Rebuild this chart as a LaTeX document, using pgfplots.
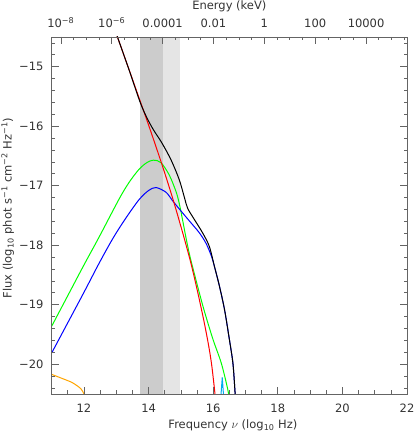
\documentclass[border=0pt]{standalone}
\usepackage{fontspec}
\setmainfont{DejaVu Sans}
\usepackage{pgfplots}
\pgfplotsset{compat=1.18}
\definecolor{bandA}{RGB}{204,204,204}
\definecolor{bandB}{RGB}{229,229,229}
\definecolor{myorange}{RGB}{255,165,0}
\definecolor{framec}{RGB}{100,100,100}
\newcommand{\fnt}{\fontsize{11.5bp}{14bp}\selectfont}
\begin{document}
\begin{tikzpicture}[font=\fnt]
\pgfplotsset{
  commonstyle/.style={
    scale only axis, width=355.3bp, height=357bp,
    tick align=inside,
    major tick length=7bp, minor tick length=3.5bp,
    every tick/.style={draw=framec, line width=0.7bp},
    axis line style={draw=framec, line width=0.8bp},
    ticklabel style={font=\fnt, text=black!80, inner sep=0pt},
    label style={font=\fnt, text=black!80, inner sep=0pt},
  }
}
\begin{axis}[commonstyle, name=main,
  xmin=11, xmax=22, ymin=-20.5, ymax=-14.5,
  xtick={12,14,16,18,20,22},
  xticklabels={12,14,16,18,20,22},
  minor xtick={11,11.5,...,22},
  ytick={-20,-19,-18,-17,-16,-15},
  yticklabels={−20,−19,−18,−17,−16,−15},
  minor ytick={-20.4,-20.2,...,-14.6},
  xtick pos=lower, ytick pos=both,
  xticklabel style={anchor=base, yshift=-18bp},
  yticklabel style={anchor=east, xshift=-8bp},
  xlabel={Frequency $\nu$ (log\textsubscript{10} Hz)},
  xlabel style={at={(axis description cs:0.51,-0.0961)}, anchor=base},
  ylabel={Flux (log\textsubscript{10} phot s\textsuperscript{−1} cm\textsuperscript{−2} Hz\textsuperscript{−1})},
  ylabel style={at={(axis description cs:-0.1126,0.521)}, anchor=base, rotate=0},
  axis on top=true,
]
% shaded bands
\addplot[fill=bandA, draw=none] coordinates {(13.74,-20.5) (13.74,-14.5) (14.46,-14.5) (14.46,-20.5)} -- cycle;
\addplot[fill=bandB, draw=none] coordinates {(14.46,-20.5) (14.46,-14.5) (14.98,-14.5) (14.98,-20.5)} -- cycle;
% orange
\addplot[myorange, line width=1bp, smooth] coordinates {
(11.0,-20.17) (11.33,-20.24) (11.64,-20.31) (11.90,-20.41) (12.0,-20.5) (12.05,-20.56)};
% cyan
\addplot[cyan, line width=1bp] coordinates {
(16.23,-20.6) (16.28,-20.22) (16.33,-20.6)};
% green
\addplot[green, line width=1bp, smooth] coordinates {
(11.0,-19.36) (11.5,-18.845) (12.0,-18.33) (12.47,-17.86) (13.09,-17.22) (13.4,-16.94)
(13.71,-16.72) (13.95,-16.61) (14.15,-16.57) (14.38,-16.61) (14.64,-16.82) (14.85,-17.10)
(14.95,-17.30) (15.05,-17.57) (15.16,-17.88) (15.26,-18.14) (15.36,-18.36) (15.67,-19.00)
(15.98,-19.56) (16.25,-19.98) (16.45,-20.42) (16.5,-20.6)};
% blue
\addplot[blue, line width=1bp, smooth] coordinates {
(11.0,-19.81) (11.5,-19.30) (12.0,-18.79) (12.47,-18.30) (12.9,-17.88) (13.3,-17.54)
(13.71,-17.23) (14.0,-17.08) (14.23,-17.03) (14.54,-17.11) (14.74,-17.25) (14.95,-17.39)
(15.26,-17.59) (15.57,-17.79) (15.78,-17.97) (15.95,-18.19) (16.04,-18.36) (16.19,-18.68)
(16.35,-19.08) (16.50,-19.58) (16.61,-19.98) (16.67,-20.42) (16.70,-20.7)};
% red
\addplot[red, line width=1bp, smooth] coordinates {
(12.9,-14.29) (13.03,-14.49) (13.5,-15.21) (14.0,-15.98) (14.43,-16.67) (14.75,-17.22)
(15.05,-17.78) (15.3,-18.28) (15.5,-18.74) (15.7,-19.24) (15.85,-19.66) (15.95,-20.0)
(16.04,-20.42) (16.1,-20.75)};
% black (total)
\addplot[black, line width=1bp, smooth] coordinates {
(12.9,-14.29) (13.03,-14.49) (13.4,-15.06) (13.74,-15.60) (13.95,-15.86) (14.15,-16.06)
(14.4,-16.27) (14.69,-16.56) (14.95,-16.90) (15.11,-17.20) (15.21,-17.38) (15.42,-17.57)
(15.67,-17.79) (15.88,-18.02) (16.04,-18.36) (16.19,-18.68) (16.35,-19.08) (16.50,-19.58)
(16.61,-19.98) (16.67,-20.42) (16.70,-20.7)};
\end{axis}
\begin{axis}[commonstyle,
  at={(main.south west)}, anchor=south west,
  xmin=-8.36, xmax=5.61, ymin=0, ymax=1,
  axis x line*=top, hide y axis,
  xtick={-8,-6,-4,-2,0,2,4},
  xticklabels={10\textsuperscript{−8},10\textsuperscript{−6},0.0001,0.01,1,100,10000},
  minor xtick={-8,-7.5,...,5.5},
  xticklabel style={anchor=base, yshift=9bp},
  xlabel={Energy (keV)},
  xlabel style={at={(axis description cs:0.5,1.077)}, anchor=base},
]
\end{axis}
\pgfresetboundingbox
\path[use as bounding box] ([xshift=-51.7bp,yshift=-39bp]main.south west) rectangle ([xshift=8bp,yshift=37bp]main.north east);
\end{tikzpicture}
\end{document}
